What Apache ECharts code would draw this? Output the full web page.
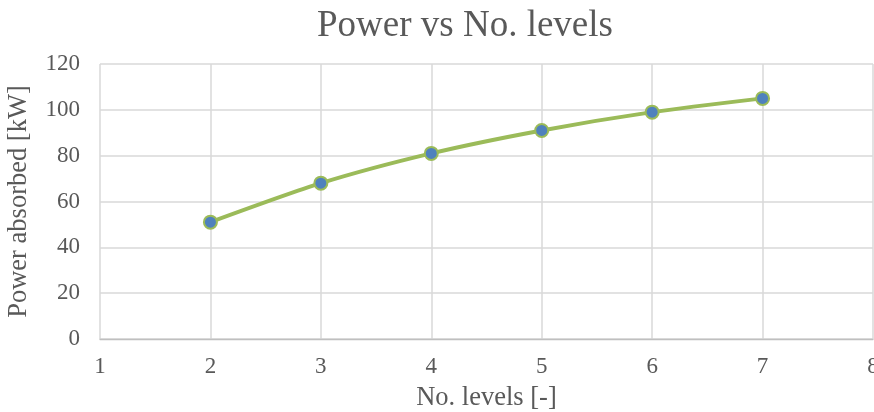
<!DOCTYPE html>
<html>
<head>
<meta charset="utf-8">
<script src="https://cdn.jsdelivr.net/npm/echarts@6/dist/echarts.min.js"></script>
<style>
  html, body { margin: 0; padding: 0; background: #fff; }
  #chart { width: 874px; height: 412px; }
</style>
</head>
<body>
<div id="chart"></div>
<script>
// Number of levels and the power absorbed at each
const levels = [2, 3, 4, 5, 6, 7];
const powerKW = [51, 68, 81, 91, 99, 105];

const xTicks = { min: 1, max: 8, interval: 1 };
const yTicks = { min: 0, max: 120, interval: 20 };

const font = '"Liberation Serif", "Times New Roman", serif';
const textColor = '#595959';
const gridColor = '#d9d9d9';

const chart = echarts.init(document.getElementById('chart'), null, { renderer: 'canvas' });

chart.setOption({
  animation: false,
  backgroundColor: '#ffffff',
  title: {
    text: 'Power vs No. levels',
    left: 312,
    top: 3,
    textStyle: { fontFamily: font, fontSize: 37, fontWeight: 'normal', color: textColor }
  },
  grid: { left: 100, right: 1, top: 64, bottom: 73, containLabel: false, outerBoundsMode: 'none' },
  xAxis: {
    type: 'value',
    min: xTicks.min, max: xTicks.max, interval: xTicks.interval,
    name: 'No. levels [-]',
    nameLocation: 'middle',
    nameGap: 46,
    nameTextStyle: { fontFamily: font, fontSize: 26.5, color: textColor },
    axisLine: { show: true, lineStyle: { color: '#bfbfbf', width: 1.3 } },
    axisTick: { show: false },
    axisLabel: { fontFamily: font, fontSize: 23, color: textColor, margin: 16 },
    splitLine: { show: true, lineStyle: { color: gridColor, width: 1.5 } }
  },
  yAxis: {
    type: 'value',
    min: yTicks.min, max: yTicks.max, interval: yTicks.interval,
    name: 'Power absorbed [kW]',
    nameLocation: 'middle',
    nameGap: 67,
    nameRotate: 90,
    nameTextStyle: { fontFamily: font, fontSize: 26.5, color: textColor },
    axisLine: { show: false },
    axisTick: { show: false },
    axisLabel: { fontFamily: font, fontSize: 23, color: textColor, margin: 20 },
    splitLine: { show: true, lineStyle: { color: gridColor, width: 1.5 } }
  },
  series: [{
    type: 'line',
    data: levels.map((l, i) => [l, powerKW[i]]),
    smooth: 0.25,
    symbol: 'circle',
    symbolSize: 13,
    lineStyle: { color: '#9bbb59', width: 4 },
    itemStyle: { color: '#4f81bd', borderColor: '#9bbb59', borderWidth: 2 }
  }]
});
</script>
</body>
</html>
